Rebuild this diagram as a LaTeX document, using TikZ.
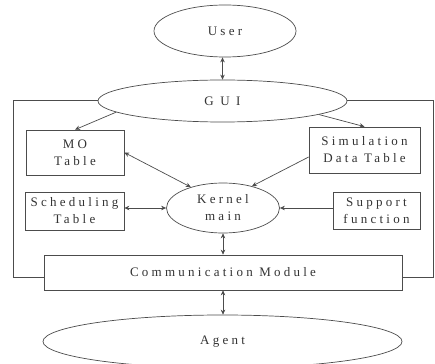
\documentclass[tikz,border=0pt]{standalone}
\usepackage{fontspec}
\setmainfont{Liberation Serif}
\newfontfamily\spacedfont[LetterSpace=25]{Liberation Serif}
\newfontfamily\widefont[LetterSpace=50]{Liberation Serif}
\usetikzlibrary{shapes.geometric,arrows.meta,calc}

\tikzset{
  ink/.style={draw=black!70, line width=0.7pt},
  label text/.style={text=black!80, font=\spacedfont\fontsize{13}{17}\selectfont, align=center},
  oval/.style={ink, label text, ellipse, inner sep=0pt, fill=white},
  tablebox/.style={ink, label text, rectangle, inner sep=0pt, fill=white},
  link/.style={ink, -{Stealth[length=5pt,width=4.5pt]}},
  duplex/.style={ink, {Stealth[length=5pt,width=4.5pt]}-{Stealth[length=5pt,width=4.5pt]}}
}

\begin{document}
\begin{tikzpicture}[x=1pt,y=-1pt]
\useasboundingbox (0,0) rectangle (435,363);
\clip (0,0) rectangle (435,363);

% enclosing frame of the simulator
\draw[ink] (13,100) rectangle (433,277);

% nodes
\node[oval, minimum width=142pt, minimum height=52pt] (User) at (225,31) {User};
\node[oval, minimum width=249pt, minimum height=42pt, font=\widefont\fontsize{13}{17}\selectfont] (GUI) at (222.5,101) {GUI};
\node[tablebox, minimum width=98pt, minimum height=45pt] (MO) at (75,152.5) {MO\\Table};
\node[tablebox, minimum width=111pt, minimum height=46pt] (Sim) at (364.5,150) {Simulation\\Data Table};
\node[oval, minimum width=113pt, minimum height=50pt] (Kernel) at (223,208) {Kernel\\main};
\node[tablebox, minimum width=99pt, minimum height=38pt] (Sched) at (74.5,211) {Scheduling\\Table};
\node[tablebox, minimum width=87pt, minimum height=37pt] (Support) at (376.5,210.5) {Support\\function};
\node[tablebox, minimum width=358pt, minimum height=35pt] (Comm) at (223,272.5) {Communication Module};
\node[oval, minimum width=359pt, minimum height=53pt] (Agent) at (222.5,341.5) {Agent};

% connectors
\draw[duplex] (GUI.north) -- (GUI.north |- User.south);
\draw[link] (GUI.186.5) -- (MO.north);
\draw[link] (GUI.352.6) -- (Sim.north);
\draw[duplex] (MO.east) -- (Kernel.147);
\draw[link] ($(Sim.west)+(0,7)$) -- (Kernel.37);
\draw[duplex] (Kernel.west) -- (Kernel.west -| Sched.east);
\draw[link] (Kernel.east -| Support.west) -- (Kernel.east);
\draw[duplex] (Kernel.south) -- (Kernel.south |- Comm.north);
\draw[duplex] (Comm.south) -- (Comm.south |- Agent.north);
\end{tikzpicture}
\end{document}
